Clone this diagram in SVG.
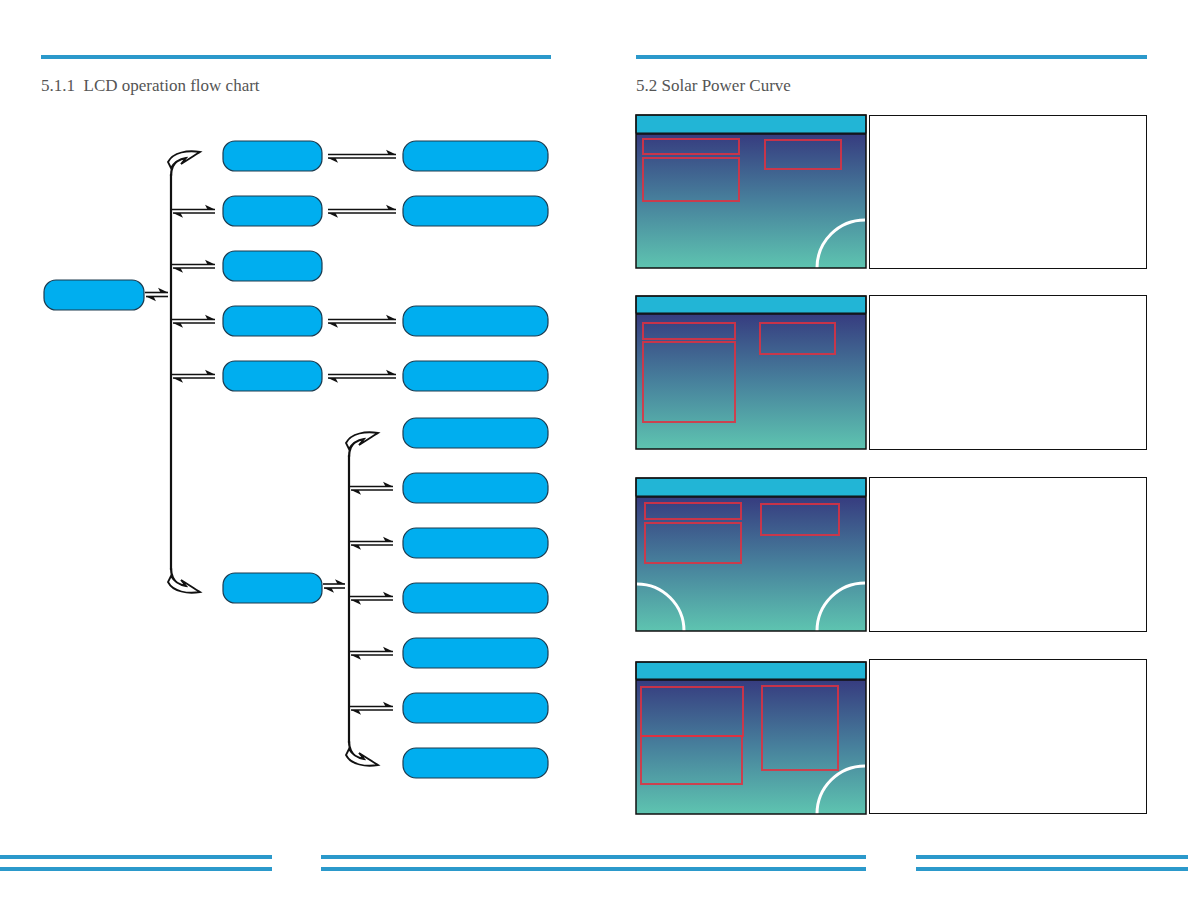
<svg xmlns="http://www.w3.org/2000/svg" xmlns:xlink="http://www.w3.org/1999/xlink" width="1188" height="918" viewBox="0 0 1188 918">
<style>
.title{font-family:"Liberation Serif",serif;font-size:17px;fill:#555}
.node{fill:#00aeef;stroke:#1c3b4f;stroke-width:1.2}
.ln{fill:none;stroke:#111;stroke-width:1.6}
.br{fill:none;stroke:#111;stroke-width:2.2}
.bar{fill:#2b99cb}
.frame{fill:none;stroke:#111;stroke-width:1.5}
.hdr{fill:#22b5d6;stroke:#111;stroke-width:1}
.red{fill:none;stroke:#e0303f;stroke-width:2;stroke-opacity:0.85}
.arc{fill:none;stroke:#fff;stroke-width:3}
.tbox{fill:#fff;stroke:#111;stroke-width:1}
</style>
<defs>
<linearGradient id="scr" x1="0" y1="0" x2="0" y2="1">
<stop offset="0" stop-color="#363b7f"/>
<stop offset="0.5" stop-color="#47809c"/>
<stop offset="1" stop-color="#5ec4b0"/>
</linearGradient>
<marker id="half" markerUnits="userSpaceOnUse" markerWidth="12" markerHeight="8" refX="0" refY="0" orient="auto" overflow="visible">
<path d="M0,0 L-10,-4.8 L-7.5,0 Z" fill="#111"/>
</marker>
<g id="curl">
<path d="M-29,24 C-29,10 -20,2 0,0" fill="none" stroke="#111" stroke-width="2.2"/>
<path d="M0,0 C-12,-2 -27,0 -32,10 L-29,16 C-25,9 -20,7 -14,6 L-19,12 C-11,7 -5,3 0,0 Z" fill="#fff" stroke="#111" stroke-width="1.8"/>
</g>
</defs>
<rect width="1188" height="918" fill="#fff"/>

<g id="page-bars">
<rect class="bar" x="41" y="55" width="510" height="4"/>
<rect class="bar" x="636" y="55" width="511" height="4"/>
<rect class="bar" x="0" y="855" width="272" height="4"/>
<rect class="bar" x="0" y="867" width="272" height="4"/>
<rect class="bar" x="321" y="855" width="545" height="4"/>
<rect class="bar" x="321" y="867" width="545" height="4"/>
<rect class="bar" x="916" y="855" width="272" height="4"/>
<rect class="bar" x="916" y="867" width="272" height="4"/>
</g>
<text class="title" x="41" y="91" xml:space="preserve">5.1.1  LCD operation flow chart</text>
<text class="title" x="636" y="91">5.2 Solar Power Curve</text>

<g id="connectors">
<path class="br" d="M171,174 V570"/>
<use xlink:href="#curl" transform="translate(200,152)"/>
<use xlink:href="#curl" transform="translate(200,592) scale(1,-1)"/>
<path class="br" d="M349,455 V743"/>
<use xlink:href="#curl" transform="translate(378,433)"/>
<use xlink:href="#curl" transform="translate(378,765) scale(1,-1)"/>
<path class="ln" d="M145,292.5 H168" marker-end="url(#half)"/>
<path class="ln" d="M168,296.5 H146" marker-end="url(#half)"/>
<path class="ln" d="M172,209.5 H215" marker-end="url(#half)"/>
<path class="ln" d="M215,213 H173" marker-end="url(#half)"/>
<path class="ln" d="M172,264.5 H215" marker-end="url(#half)"/>
<path class="ln" d="M215,268 H173" marker-end="url(#half)"/>
<path class="ln" d="M172,319.5 H215" marker-end="url(#half)"/>
<path class="ln" d="M215,323 H173" marker-end="url(#half)"/>
<path class="ln" d="M172,374.5 H215" marker-end="url(#half)"/>
<path class="ln" d="M215,378 H173" marker-end="url(#half)"/>
<path class="ln" d="M328,154.5 H396" marker-end="url(#half)"/>
<path class="ln" d="M396,158 H328" marker-end="url(#half)"/>
<path class="ln" d="M328,209.5 H396" marker-end="url(#half)"/>
<path class="ln" d="M396,213 H328" marker-end="url(#half)"/>
<path class="ln" d="M328,319.5 H396" marker-end="url(#half)"/>
<path class="ln" d="M396,323 H328" marker-end="url(#half)"/>
<path class="ln" d="M328,374.5 H396" marker-end="url(#half)"/>
<path class="ln" d="M396,378 H328" marker-end="url(#half)"/>
<path class="ln" d="M323,584 H345" marker-end="url(#half)"/>
<path class="ln" d="M345,588 H324" marker-end="url(#half)"/>
<path class="ln" d="M350,486.5 H393" marker-end="url(#half)"/>
<path class="ln" d="M393,490 H351" marker-end="url(#half)"/>
<path class="ln" d="M350,541.5 H393" marker-end="url(#half)"/>
<path class="ln" d="M393,545 H351" marker-end="url(#half)"/>
<path class="ln" d="M350,596.5 H393" marker-end="url(#half)"/>
<path class="ln" d="M393,600 H351" marker-end="url(#half)"/>
<path class="ln" d="M350,651.5 H393" marker-end="url(#half)"/>
<path class="ln" d="M393,655 H351" marker-end="url(#half)"/>
<path class="ln" d="M350,706.5 H393" marker-end="url(#half)"/>
<path class="ln" d="M393,710 H351" marker-end="url(#half)"/>
</g>

<g id="root"><rect class="node" x="44" y="280" width="100" height="30" rx="12"/></g>
<g id="n1"><rect class="node" x="223" y="141" width="99" height="30" rx="12"/></g>
<g id="n2"><rect class="node" x="223" y="196" width="99" height="30" rx="12"/></g>
<g id="n3"><rect class="node" x="223" y="251" width="99" height="30" rx="12"/></g>
<g id="n4"><rect class="node" x="223" y="306" width="99" height="30" rx="12"/></g>
<g id="n5"><rect class="node" x="223" y="361" width="99" height="30" rx="12"/></g>
<g id="n6"><rect class="node" x="223" y="573" width="99" height="30" rx="12"/></g>
<g id="m1"><rect class="node" x="403" y="141" width="145" height="30" rx="13"/></g>
<g id="m2"><rect class="node" x="403" y="196" width="145" height="30" rx="13"/></g>
<g id="m4"><rect class="node" x="403" y="306" width="145" height="30" rx="13"/></g>
<g id="m5"><rect class="node" x="403" y="361" width="145" height="30" rx="13"/></g>
<g id="s1"><rect class="node" x="403" y="418" width="145" height="30" rx="13"/></g>
<g id="s2"><rect class="node" x="403" y="473" width="145" height="30" rx="13"/></g>
<g id="s3"><rect class="node" x="403" y="528" width="145" height="30" rx="13"/></g>
<g id="s4"><rect class="node" x="403" y="583" width="145" height="30" rx="13"/></g>
<g id="s5"><rect class="node" x="403" y="638" width="145" height="30" rx="13"/></g>
<g id="s6"><rect class="node" x="403" y="693" width="145" height="30" rx="13"/></g>
<g id="s7"><rect class="node" x="403" y="748" width="145" height="30" rx="13"/></g>

<g id="screen1">
<rect x="636" y="133" width="230" height="135" fill="url(#scr)"/>
<rect class="hdr" x="636" y="115" width="230" height="18"/>
<line x1="636" y1="134" x2="866" y2="134" stroke="#111" stroke-width="1.5"/>
<rect class="red" x="643" y="139" width="96" height="15"/>
<rect class="red" x="643" y="158" width="96" height="43"/>
<rect class="red" x="765" y="140" width="76" height="29"/>
<path class="arc" d="M817,268 A48,48 0 0 1 865,220"/>
<rect class="frame" x="636" y="115" width="230" height="153"/>
<rect class="tbox" x="869.5" y="115.5" width="277" height="153"/>
</g>

<g id="screen2">
<rect x="636" y="313" width="230" height="136" fill="url(#scr)"/>
<rect class="hdr" x="636" y="296" width="230" height="17"/>
<line x1="636" y1="314" x2="866" y2="314" stroke="#111" stroke-width="1.5"/>
<rect class="red" x="643" y="323" width="92" height="16"/>
<rect class="red" x="643" y="342" width="92" height="80"/>
<rect class="red" x="760" y="323" width="75" height="31"/>
<rect class="frame" x="636" y="296" width="230" height="153"/>
<rect class="tbox" x="869.5" y="295.5" width="277" height="154"/>
</g>

<g id="screen3">
<rect x="636" y="496" width="230" height="135" fill="url(#scr)"/>
<rect class="hdr" x="636" y="478" width="230" height="18"/>
<line x1="636" y1="497" x2="866" y2="497" stroke="#111" stroke-width="1.5"/>
<rect class="red" x="645" y="503" width="96" height="16"/>
<rect class="red" x="645" y="523" width="96" height="40"/>
<rect class="red" x="761" y="504" width="78" height="31"/>
<path class="arc" d="M637,584 A47,47 0 0 1 684,631"/>
<path class="arc" d="M817,631 A48,48 0 0 1 865,583"/>
<rect class="frame" x="636" y="478" width="230" height="153"/>
<rect class="tbox" x="869.5" y="477.5" width="277" height="154"/>
</g>

<g id="screen4">
<rect x="636" y="679" width="230" height="135" fill="url(#scr)"/>
<rect class="hdr" x="636" y="662" width="230" height="17"/>
<line x1="636" y1="680" x2="866" y2="680" stroke="#111" stroke-width="1.5"/>
<rect class="red" x="641" y="687" width="102" height="49"/>
<rect class="red" x="641" y="736" width="101" height="48"/>
<rect class="red" x="762" y="686" width="76" height="84"/>
<path class="arc" d="M817,814 A48,48 0 0 1 865,766"/>
<rect class="frame" x="636" y="662" width="230" height="152"/>
<rect class="tbox" x="869.5" y="659.5" width="277" height="154"/>
</g>
</svg>
